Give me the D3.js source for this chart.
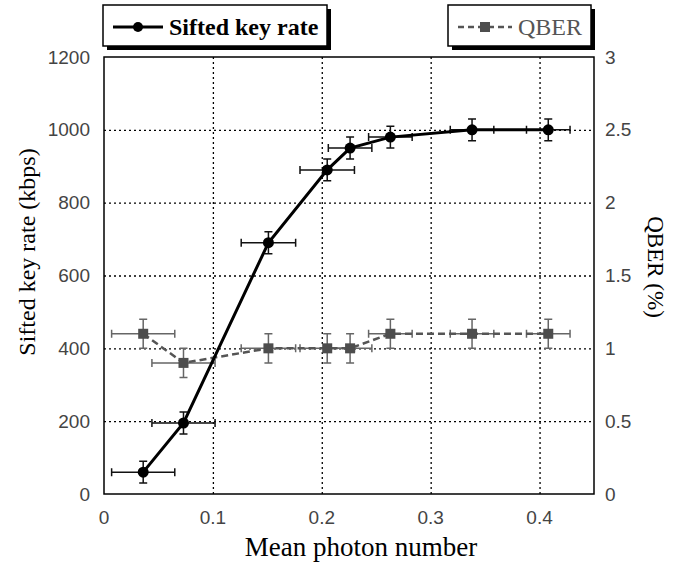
<!DOCTYPE html>
<html lang="en">
<head>
    <meta charset="UTF-8">
    <title>Sifted key rate and QBER</title>
    <script src="https://d3js.org/d3.v7.min.js"></script>
    <style>
        body {
            margin: 0;
            padding: 0;
            background: #fff;
        }
        .tick-label {
            font-family: "Liberation Sans", Arial, sans-serif;
            font-size: 19px;
            fill: #444;
        }
        .title, .legend-text {
            font-family: "Liberation Serif", "Times New Roman", Times, Tinos, "DejaVu Serif", serif;
        }
        .title {
            fill: #000;
        }
        .grid line {
            stroke: #000;
            stroke-width: 1.3;
            stroke-dasharray: 2, 3;
        }
    </style>
</head>
<body>
    <svg id="chart"></svg>

    <script>
        // data
        const meanPhoton = [0.036, 0.073, 0.151, 0.205, 0.226, 0.263, 0.338, 0.408];
        const photonErr = [0.029, 0.029, 0.025, 0.025, 0.02, 0.02, 0.02, 0.02];
        const siftedRate = [60, 195, 690, 890, 950, 980, 1000, 1000];
        const rateErr = [30, 30, 30, 30, 30, 30, 30, 30];
        const qber = [1.1, 0.9, 1.0, 1.0, 1.0, 1.1, 1.1, 1.1];
        const qberErr = [0.1, 0.1, 0.1, 0.1, 0.1, 0.1, 0.1, 0.1];

        const xTicks = [0, 0.1, 0.2, 0.3, 0.4];
        const leftTicks = [0, 200, 400, 600, 800, 1000, 1200];
        const rightTicks = [0, 0.5, 1, 1.5, 2, 2.5, 3];

        const W = 674, H = 565;
        const margin = { top: 57, right: 80, bottom: 71, left: 104 };
        const width = W - margin.left - margin.right;   // 490
        const height = H - margin.top - margin.bottom;  // 437

        const root = d3.select("#chart").attr("width", W).attr("height", H);
        const svg = root.append("g")
            .attr("transform", `translate(${margin.left},${margin.top})`);

        const x = d3.scaleLinear().domain([0, 0.45]).range([0, width]);
        const yL = d3.scaleLinear().domain([0, 1200]).range([height, 0]);
        const yR = d3.scaleLinear().domain([0, 3]).range([height, 0]);

        // 网格线 (dotted)
        svg.append("g").attr("class", "grid")
            .call(d3.axisLeft(yL).tickValues(leftTicks.slice(1, -1)).tickSize(-width).tickFormat(""))
            .call(g => g.select(".domain").remove());
        svg.append("g").attr("class", "grid")
            .attr("transform", `translate(0,${height})`)
            .call(d3.axisBottom(x).tickValues(xTicks.slice(1)).tickSize(-height).tickFormat(""))
            .call(g => g.select(".domain").remove());

        // tick labels
        svg.append("g").selectAll("text")
            .data(leftTicks).join("text")
            .attr("class", "tick-label")
            .attr("x", -14).attr("y", d => yL(d)).attr("dy", "0.35em")
            .attr("text-anchor", "end")
            .text(d => d);
        svg.append("g").selectAll("text")
            .data(rightTicks).join("text")
            .attr("class", "tick-label")
            .attr("x", width + 11).attr("y", d => yR(d)).attr("dy", "0.35em")
            .text(d => d);
        svg.append("g").selectAll("text")
            .data(xTicks).join("text")
            .attr("class", "tick-label")
            .attr("x", d => x(d)).attr("y", height + 30)
            .attr("text-anchor", "middle")
            .text(d => d);

        // plot frame
        svg.append("rect")
            .attr("width", width).attr("height", height)
            .attr("fill", "none").attr("stroke", "#000").attr("stroke-width", 1.5);

        // axis titles
        root.append("text").attr("class", "title")
            .attr("x", 361).attr("y", 556)
            .attr("text-anchor", "middle")
            .style("font-size", "27px")
            .text("Mean photon number");
        root.append("text").attr("class", "title")
            .attr("transform", "translate(35,252) rotate(-90)")
            .attr("text-anchor", "middle")
            .style("font-size", "24px")
            .text("Sifted key rate (kbps)");
        root.append("text").attr("class", "title")
            .attr("transform", "translate(648,267) rotate(90)")
            .attr("text-anchor", "middle")
            .style("font-size", "23px")
            .text("QBER (%)");

        const idx = d3.range(meanPhoton.length);

        // 误差线
        function errorBars(yScale, vals, errs, color) {
            const g = svg.append("g").attr("stroke", color).attr("stroke-width", 1.5).attr("fill", "none");
            idx.forEach(i => {
                const cx = x(meanPhoton[i]), cy = yScale(vals[i]);
                const x0 = x(meanPhoton[i] - photonErr[i]), x1 = x(meanPhoton[i] + photonErr[i]);
                const y0 = yScale(vals[i] - errs[i]), y1 = yScale(vals[i] + errs[i]);
                g.append("path").attr("d",
                    `M${x0},${cy}H${x1}M${x0},${cy - 4}V${cy + 4}M${x1},${cy - 4}V${cy + 4}` +
                    `M${cx},${y0}V${y1}M${cx - 4},${y0}H${cx + 4}M${cx - 4},${y1}H${cx + 4}`);
            });
        }

        // QBER series (grey, dashed)
        errorBars(yR, qber, qberErr, "#666");
        svg.append("path")
            .datum(idx)
            .attr("fill", "none")
            .attr("stroke", "#555")
            .attr("stroke-width", 2.5)
            .attr("stroke-dasharray", "7,4")
            .attr("d", d3.line().x(i => x(meanPhoton[i])).y(i => yR(qber[i])));
        svg.append("g").selectAll("rect")
            .data(idx).join("rect")
            .attr("x", i => x(meanPhoton[i]) - 5)
            .attr("y", i => yR(qber[i]) - 5)
            .attr("width", 10).attr("height", 10)
            .attr("fill", "#4d4d4d");

        // sifted key rate (black, solid)
        errorBars(yL, siftedRate, rateErr, "#111");
        svg.append("path")
            .datum(idx)
            .attr("fill", "none")
            .attr("stroke", "#000")
            .attr("stroke-width", 3)
            .attr("d", d3.line().x(i => x(meanPhoton[i])).y(i => yL(siftedRate[i])));
        svg.append("g").selectAll("circle")
            .data(idx).join("circle")
            .attr("cx", i => x(meanPhoton[i]))
            .attr("cy", i => yL(siftedRate[i]))
            .attr("r", 5.5)
            .attr("fill", "#000");

        // legend boxes with drop shadow
        function legendBox(bx, bw, opts) {
            const g = root.append("g");
            g.append("rect").attr("x", bx + 4).attr("y", 9).attr("width", bw).attr("height", 41).attr("fill", "#000");
            g.append("rect").attr("x", bx).attr("y", 5).attr("width", bw).attr("height", 41)
                .attr("fill", "#fff").attr("stroke", "#000").attr("stroke-width", 1.5);
            g.append("line")
                .attr("x1", bx + 10).attr("x2", bx + opts.lineLen + 10)
                .attr("y1", 27).attr("y2", 27)
                .attr("stroke", opts.color).attr("stroke-width", opts.sw)
                .attr("stroke-dasharray", opts.dash || null);
            const mx = bx + 10 + opts.lineLen / 2;
            if (opts.marker === "circle") {
                g.append("circle").attr("cx", mx).attr("cy", 27).attr("r", 5).attr("fill", opts.color);
            } else {
                g.append("rect").attr("x", mx - 5).attr("y", 22).attr("width", 10).attr("height", 10).attr("fill", "#4d4d4d");
            }
            g.append("text")
                .attr("class", "legend-text")
                .attr("x", bx + opts.lineLen + 16).attr("y", 35)
                .style("font-size", "24px")
                .style("font-weight", opts.bold ? "bold" : "normal")
                .attr("fill", opts.textColor)
                .text(opts.label);
        }
        legendBox(103, 224, { label: "Sifted key rate", color: "#000", sw: 3, lineLen: 50, marker: "circle", bold: true, textColor: "#000" });
        legendBox(448, 143, { label: "QBER", color: "#555", sw: 2.5, lineLen: 54, dash: "6,4", marker: "square", bold: false, textColor: "#555" });
    </script>
</body>
</html>
